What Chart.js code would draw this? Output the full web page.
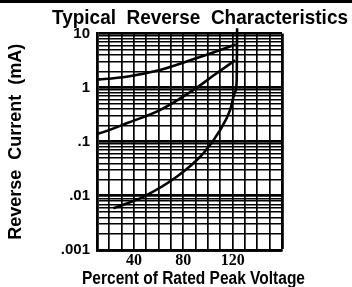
<!DOCTYPE html>
<html><head><meta charset="utf-8">
<script src="https://cdn.jsdelivr.net/npm/chart.js@4.4.1/dist/chart.umd.min.js"></script>
<style>html,body{margin:0;padding:0;background:#fff;}#wrap{width:352px;height:287px;}</style>
</head><body><div id="wrap"><canvas id="c" width="352" height="287"></canvas></div>
<script>
// ---- text ----
const chartTitle = 'Typical  Reverse  Characteristics';
const xAxisTitle = 'Percent of Rated Peak Voltage';
const yAxisTitle = 'Reverse  Current  (mA)';
// ---- tick labels ----
const xTickLabels = [40, 80, 120];
const yTickValues = [0.001, 0.01, 0.1, 1, 10];
const yTickLabels = ['.001', '.01', '.1', '1', '10'];
// ---- series (percent of rated peak voltage, reverse current mA) ----
const curveA_x = [10, 12, 34, 61, 88, 110, 122.5];
const curveA_y = [1.41, 1.42, 1.59, 2.11, 3.33, 4.95, 6.3];
const curveB_x = [10, 12, 34, 61, 88, 107, 122];
const curveB_y = [0.14, 0.143, 0.219, 0.385, 0.90, 1.84, 3.2];
const curveC_x = [23.2, 47.5, 74.6, 96.2, 109.8, 117.9, 122.0, 123.3, 123.6];
const curveC_y = [0.0059, 0.0096, 0.0225, 0.061, 0.164, 0.385, 0.84, 1.38, 12.5];

const toPts = (xs, ys) => xs.map((x, i) => ({x, y: ys[i]}));
const isDecade = v => Math.abs(Math.log10(v) - Math.round(Math.log10(v))) < 1e-6;

const textPlugin = {
  id: 'deco',
  beforeDraw(chart) {
    const ctx = chart.ctx;
    ctx.save();
    ctx.fillStyle = '#fff';
    ctx.fillRect(0, 0, chart.width, chart.height);
    ctx.fillStyle = '#000';
    ctx.fillRect(0, 0, chart.width, 3);
    ctx.restore();
  },
  afterDraw(chart) {
    const ctx = chart.ctx;
    ctx.save();
    ctx.fillStyle = '#000';
    ctx.textBaseline = 'alphabetic';
    // main title (condensed by maxWidth)
    ctx.font = "bold 21px 'Liberation Sans', Arial, sans-serif";
    ctx.textAlign = 'center';
    ctx.fillText(chartTitle, 200, 24, 296);
    // x axis title
    ctx.font = "bold 18px 'Liberation Sans', Arial, sans-serif";
    ctx.fillText(xAxisTitle, 193.5, 283.5, 223);
    ctx.restore();
  }
};

const ds = (xs, ys) => ({
  data: toPts(xs, ys),
  borderColor: '#000',
  borderWidth: 2.6,
  pointRadius: 0,
  fill: false,
  clip: false,
  cubicInterpolationMode: 'monotone'
});

new Chart(document.getElementById('c'), {
  type: 'line',
  data: { datasets: [ds(curveA_x, curveA_y), ds(curveB_x, curveB_y), ds(curveC_x, curveC_y)] },
  plugins: [textPlugin],
  options: {
    responsive: false,
    animation: false,
    layout: { padding: { top: 33.5, right: 70, bottom: 0, left: 0 } },
    plugins: { legend: { display: false }, tooltip: { enabled: false }, title: { display: false } },
    scales: {
      x: {
        type: 'linear', min: 10, max: 160,
        afterFit: s => { s.height = 37; },
        ticks: {
          stepSize: 10, autoSkip: false, maxRotation: 0, padding: 1, color: '#000',
          font: { family: "'Liberation Serif', serif", size: 16, weight: 'bold' },
          callback: v => xTickLabels.includes(v) ? String(v) : ''
        },
        grid: {
          color: '#000', drawTicks: false,
          lineWidth: c => (c.tick && c.tick.value === 160) ? 2.8 : 1.7
        },
        border: { display: true, color: '#000', width: 2.8 },
        title: { display: false, text: xAxisTitle }
      },
      y: {
        type: 'logarithmic', min: 0.001, max: 10,
        afterFit: s => { s.width = 97; },
        afterBuildTicks: s => {
          const t = [];
          for (let e = -3; e <= 0; e++) for (let m = 1; m <= 9; m++) t.push({ value: +(m * Math.pow(10, e)).toPrecision(3) });
          t.push({ value: 10 });
          s.ticks = t;
        },
        ticks: {
          autoSkip: false, padding: 7, color: '#000',
          font: { family: "'Liberation Sans', sans-serif", size: 15, weight: 'bold' },
          callback: v => { const i = yTickValues.findIndex(t => Math.abs(t - v) < 1e-9); return i >= 0 ? yTickLabels[i] : ''; }
        },
        grid: {
          color: '#000', drawTicks: false,
          lineWidth: c => (c.tick && isDecade(c.tick.value)) ? 2.8 : 1.5
        },
        border: { display: true, color: '#000', width: 2.8 },
        title: {
          display: true, text: yAxisTitle, color: '#000',
          font: { family: "'Liberation Sans', sans-serif", size: 18, weight: 'bold', lineHeight: 1.2 },
          padding: { top: 5, bottom: 0 }
        }
      }
    }
  }
});
</script></body></html>
